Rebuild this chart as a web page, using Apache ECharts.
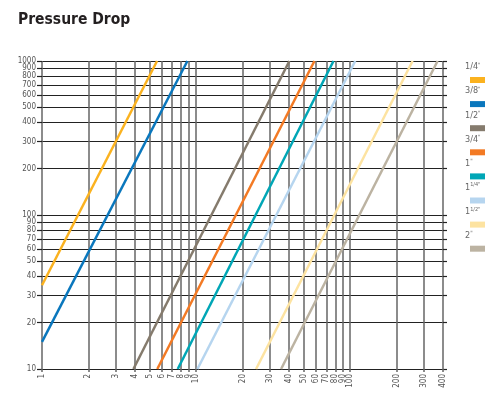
<!DOCTYPE html>
<html>
<head>
<meta charset="utf-8">
<script src="https://cdn.jsdelivr.net/npm/echarts@6/dist/echarts.min.js"></script>
<style>
  html, body { margin: 0; padding: 0; background: #fff; }
  #chart { width: 485px; height: 394px; }
</style>
</head>
<body>
<div id="chart"></div>
<script>
// pipe sizes, flow where each line starts / ends, pressure drop at those points
const sizes = ['1/4"', '3/8"', '1/2"', '3/4"', '1"', '1 1/4"', '1 1/2"', '2"']
const sizeLabels = ['1/4{q|"}', '3/8{q|"}', '1/2{q|"}', '3/4{q|"}', '1{q|"}', '1{s|1/4"}', '1{s|1/2"}', '2{q|"}']
const colors = ['#fbb21f', '#0a77bd', '#857b6d', '#f37a24', '#00a6b6', '#b6d5ef', '#fde3a1', '#bcb3a2']
const flowStart = [1, 1, 3.92, 5.6, 7.6, 10.2, 24.5, 35.6]
const dropStart = [35, 15, 10, 10, 10, 10, 10, 10]
const flowEnd = [5.58, 8.78, 40.3, 58.6, 77.9, 107.8, 254, 369]
const dropEnd = [1000, 1000, 1000, 1000, 1000, 1000, 1000, 1000]

const xTicks = [1, 2, 3, 4, 5, 6, 7, 8, 9, 10, 20, 30, 40, 50, 60, 70, 80, 90, 100, 200, 300, 400]
const yTicks = [10, 20, 30, 40, 50, 60, 70, 80, 90, 100, 200, 300, 400, 500, 600, 700, 800, 900, 1000]
const yTopTick = [1000]

const font = "'Liberation Sans Narrow', 'DejaVu Sans Condensed', sans-serif"

let mychart = echarts.init(document.getElementById('chart'))

let series = sizes.map((name, i) => ({
  name: name,
  type: 'line',
  symbol: 'none',
  silent: true,
  color: colors[i],
  lineStyle: { width: 2.5, color: colors[i] },
  data: [[flowStart[i], dropStart[i]], [flowEnd[i], dropEnd[i]]]
}))

let legendRich = {
  q: { fontSize: 6, padding: [0, 0, 4, 0], color: '#666', fontFamily: font },
  s: { fontSize: 5.5, padding: [0, 0, 5, 0], color: '#666', fontFamily: font }
}

let yLabel = {
  formatter: (v) => String(v),
  margin: 6,
  fontSize: 8,
  lineHeight: 6,
  color: '#555',
  fontFamily: font,
  showMinLabel: true,
  showMaxLabel: true,
  hideOverlap: false
}

let option = {
  animation: false,
  title: {
    text: 'Pressure Drop',
    left: 13,
    top: 7,
    textStyle: { fontSize: 15.5, fontWeight: 'bold', color: '#231f20', fontFamily: font }
  },
  legend: [
    {
      // text part
      orient: 'vertical',
      left: 454,
      top: 56,
      itemWidth: 0,
      itemHeight: 0,
      itemGap: 12.1,
      selectedMode: false,
      data: sizes,
      formatter: (name) => sizeLabels[sizes.indexOf(name)],
      textStyle: { fontSize: 9, lineHeight: 12, color: '#666', fontFamily: font, rich: legendRich }
    },
    {
      // colour swatches
      orient: 'vertical',
      left: 465,
      top: 69,
      icon: 'rect',
      itemWidth: 18,
      itemHeight: 6,
      itemGap: 12.1,
      selectedMode: false,
      data: sizes,
      formatter: () => ' ',
      textStyle: { fontSize: 9, lineHeight: 12 }
    }
  ],
  grid: { left: 42, right: 42, top: 61, bottom: 25 },
  xAxis: {
    type: 'log',
    logBase: 10,
    min: 1,
    max: 400,
    axisLine: { show: false },
    axisTick: { show: true, length: 3, customValues: xTicks, lineStyle: { color: '#666', width: 1.5 } },
    axisLabel: {
      customValues: xTicks,
      formatter: (v) => String(v),
      rotate: 90,
      margin: 5,
      fontSize: 8,
      lineHeight: 6,
      color: '#555',
      fontFamily: font,
      showMinLabel: true,
      showMaxLabel: true,
      hideOverlap: false
    },
    splitLine: { show: true, lineStyle: { color: '#666', width: 1.5 } }
  },
  yAxis: [
    {
      type: 'log',
      logBase: 10,
      min: 10,
      max: 1000,
      axisLine: { show: false },
      axisTick: { show: true, length: 5, customValues: yTicks, lineStyle: { color: '#222', width: 1.2 } },
      axisLabel: Object.assign({ customValues: yTicks.slice(0, -1) }, yLabel),
      splitLine: { show: true, lineStyle: { color: '#222', width: 1.2 } }
    },
    {
      type: 'log',
      logBase: 10,
      min: 10,
      max: 1000,
      position: 'right',
      axisLine: { show: false },
      axisTick: { show: true, length: 4, customValues: yTicks, lineStyle: { color: '#222', width: 1.2 } },
      axisLabel: { show: false },
      splitLine: { show: false }
    },
    {
      // only carries the top label so it does not knock out 900
      type: 'log',
      logBase: 10,
      min: 10,
      max: 1000,
      position: 'left',
      axisLine: { show: false },
      axisTick: { show: false },
      axisLabel: Object.assign({ customValues: yTopTick }, yLabel),
      splitLine: { show: false }
    }
  ],
  series: series
}
mychart.setOption(option)
</script>
</body>
</html>
